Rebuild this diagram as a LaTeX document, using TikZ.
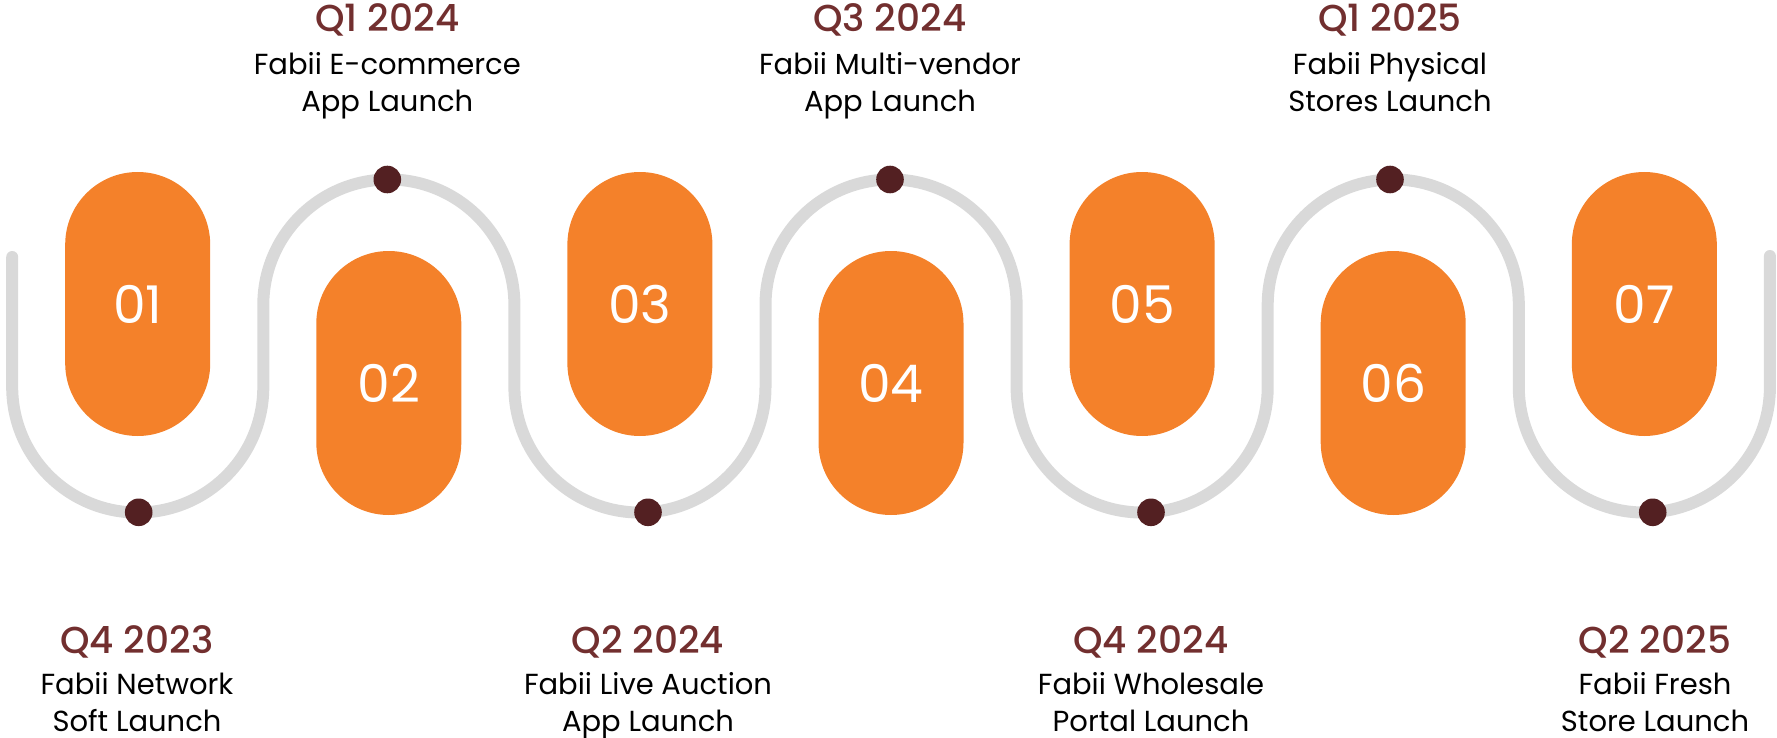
\documentclass[tikz,border=0pt]{standalone}
\usepackage{fontspec}
\setmainfont{Poppins}
\newfontfamily\titlefont{Poppins Medium}
\definecolor{pillorange}{HTML}{F4812A}
\definecolor{dotred}{HTML}{532022}
\definecolor{titlered}{HTML}{722F2F}
\definecolor{trackgray}{HTML}{D9D9D9}
\begin{document}
\begin{tikzpicture}[x=1pt,y=-1pt,
  pill/.style={fill=pillorange, rounded corners=72.5pt, minimum width=145pt, minimum height=264pt, inner sep=0pt, text=white, font=\fontsize{52}{52}\selectfont},
  dotnode/.style={circle, fill=dotred, minimum size=27.6pt, inner sep=0pt},
  ttl/.style={anchor=base, text=titlered, font=\titlefont\fontsize{37.5}{37.5}\selectfont, inner sep=0pt},
  desc/.style={anchor=base, text=black, font=\fontsize{29}{29}\selectfont, inner sep=0pt},
  track/.style={draw=trackgray, line width=12pt, line cap=round}]
\useasboundingbox (0,0) rectangle (1777,738);
% track
\draw[track] (12.2,257) -- (12.2,387) arc(180:0:125.55) -- (263.3,305) arc(180:360:125.55)
  -- (514.4,387) arc(180:0:125.55) -- (765.5,305) arc(180:360:125.55)
  -- (1016.6,387) arc(180:0:125.55) -- (1267.7,305) arc(180:360:125.55)
  -- (1518.8,387) arc(180:0:125.55) -- (1769.9,256);
% pills
\node[pill] (p1) at (137.7,304) {01};
\node[pill] (p2) at (388.8,383) {02};
\node[pill] (p3) at (639.9,304) {03};
\node[pill] (p4) at (891.0,383) {04};
\node[pill] (p5) at (1142.1,304) {05};
\node[pill] (p6) at (1393.2,383) {06};
\node[pill] (p7) at (1644.3,304) {07};
% dots
\node[dotnode] (d1) at (138.7,512.3) {};
\node[dotnode] (d2) at (387.3,179.5) {};
\node[dotnode] (d3) at (648,512.3) {};
\node[dotnode] (d4) at (890,179.5) {};
\node[dotnode] (d5) at (1151,512.3) {};
\node[dotnode] (d6) at (1390,179.5) {};
\node[dotnode] (d7) at (1652.7,512.3) {};
% top labels
\node[ttl] (t2) at (387.3,32) {Q1 2024};
\node[desc] (t2a) at (387.3,74.5) {Fabii E-commerce};
\node[desc] (t2b) at (387.3,112) {App Launch};
\node[ttl] (t4) at (890,32) {Q3 2024};
\node[desc] (t4a) at (890,74.5) {Fabii Multi-vendor};
\node[desc] (t4b) at (890,112) {App Launch};
\node[ttl] (t6) at (1390,32) {Q1 2025};
\node[desc] (t6a) at (1390,74.5) {Fabii Physical};
\node[desc] (t6b) at (1390,112) {Stores Launch};
% bottom labels
\node[ttl] (t1) at (137,653) {Q4 2023};
\node[desc] (t1a) at (137,694) {Fabii Network};
\node[desc] (t1b) at (137,731) {Soft Launch};
\node[ttl] (t3) at (648,653) {Q2 2024};
\node[desc] (t3a) at (648,694) {Fabii Live Auction};
\node[desc] (t3b) at (648,731) {App Launch};
\node[ttl] (t5) at (1151,653) {Q4 2024};
\node[desc] (t5a) at (1151,694) {Fabii Wholesale};
\node[desc] (t5b) at (1151,731) {Portal Launch};
\node[ttl] (t7) at (1655,653) {Q2 2025};
\node[desc] (t7a) at (1655,694) {Fabii Fresh};
\node[desc] (t7b) at (1655,731) {Store Launch};
\end{tikzpicture}
\end{document}
